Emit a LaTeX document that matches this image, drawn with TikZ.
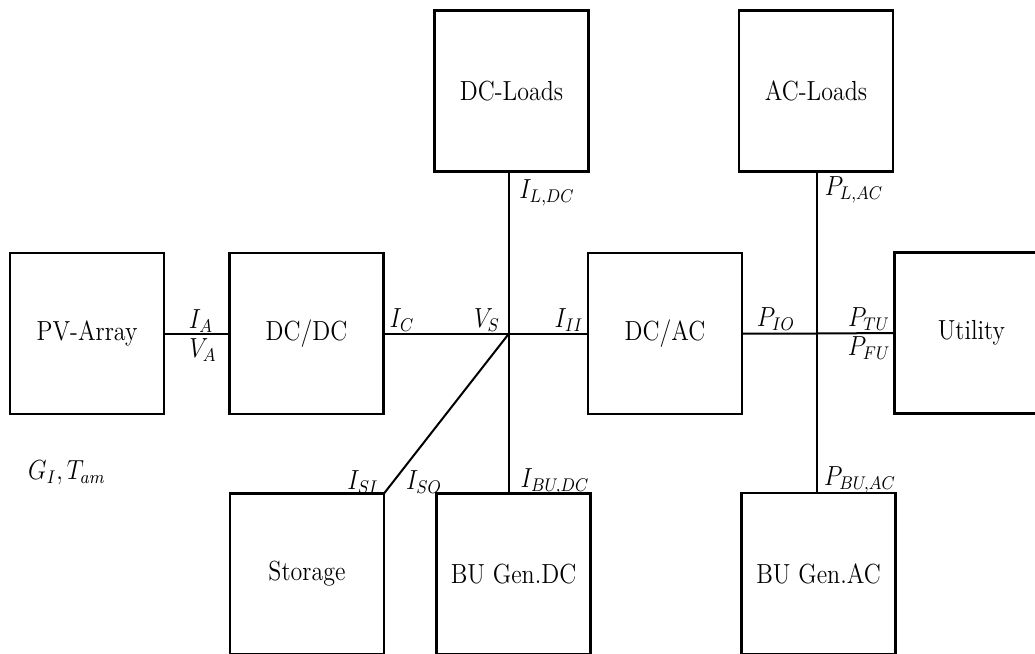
\documentclass[tikz,border=0pt]{standalone}
\usepackage{graphicx}
\begin{document}
\begin{tikzpicture}[x=0.5pt,y=-0.5pt,
  blk/.style={draw,line width=1.1pt,minimum width=77pt,minimum height=80.5pt,inner sep=0pt,outer sep=0pt,font=\fontsize{12}{14}\selectfont},
  lbl/.style={inner sep=0pt,font=\fontsize{12}{14}\selectfont},
  wire/.style={line width=1pt}]
\useasboundingbox (0,0) rectangle (1035,654);
\clip (0,0) rectangle (1035,654);
\fill[white] (0,0) rectangle (1035,654);
\newcommand{\vs}[1]{\scalebox{1}[1.15]{#1}}
% blocks
\node[blk] (PV)   at (87,333.5)    {\vs{PV-Array}};
\node[blk] (DCDC) at (306.5,333.5) {\vs{DC/DC}};
\node[blk] (DCL)  at (511.5,91)  {\vs{DC-Loads}};
\node[blk] (DCAC) at (665,333.5)   {\vs{DC/AC}};
\node[blk] (ACL)  at (816,91)    {\vs{AC-Loads}};
\node[blk] (UT)   at (971.5,333) {\vs{Utility}};
\node[blk] (ST)   at (307,574)   {\vs{Storage}};
\node[blk] (BGDC) at (513.5,574) {\vs{BU Gen.DC}};
\node[blk] (BGAC) at (818.5,573.5) {\vs{BU Gen.AC}};
% junctions
\coordinate (J1) at (509,333.5);
\coordinate (J2) at (817,333.5);
% wires
\draw[wire] (PV.east) -- (DCDC.west);
\draw[wire] (DCDC.east) -- (J1) -- (DCAC.west);
\draw[wire] (DCAC.east) -- (J2) -- (UT.west);
\draw[wire] (DCL.south -| J1) -- (J1) -- (BGDC.north -| J1);
\draw[wire] (ACL.south -| J2) -- (J2) -- (BGAC.north -| J2);
\draw[wire] (J1) -- (ST.north east);
% labels
\node[lbl] (lIA)  at (201,321) {\vs{$I_A$}};
\node[lbl] (lVA)  at (203,350) {\vs{$V_A$}};
\node[lbl] (lIC)  at (402,320) {\vs{$I_C$}};
\node[lbl] (lVS)  at (487,320) {\vs{$V_S$}};
\node[lbl] (lIII) at (569,320) {\vs{$I_{II}$}};
\node[lbl] (lPIO) at (776,319) {\vs{$P_{IO}$}};
\node[lbl] (lPTU) at (869,319) {\vs{$P_{TU}$}};
\node[lbl] (lPFU) at (869,348) {\vs{$P_{FU}$}};
\node[lbl] (lILDC) at (547,193) {\vs{$I_{L,DC}$}};
\node[lbl] (lPLAC) at (854,190) {\vs{$P_{L,AC}$}};
\node[lbl] (lISI) at (363,482) {\vs{$I_{SI}$}};
\node[lbl] (lISO) at (424,482) {\vs{$I_{SO}$}};
\node[lbl] (lIBU) at (555,482) {\vs{$I_{BU,DC}$}};
\node[lbl] (lPBU) at (860,480) {\vs{$P_{BU,AC}$}};
\node[lbl] (lG)   at (67,473)  {\vs{$G_I,T_{am}$}};
\end{tikzpicture}
\end{document}
